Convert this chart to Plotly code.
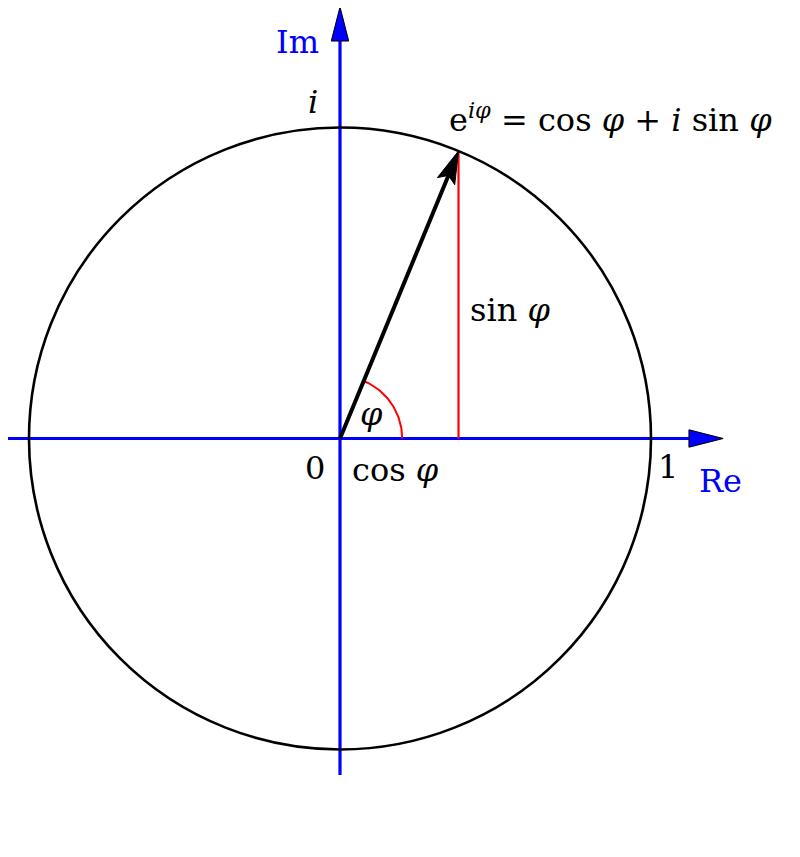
import numpy as np
import plotly.graph_objects as go

# ---- data ----
phi_deg = 67.6          # angle of the unit vector
radius = 1.0            # unit circle
arc_radius = 0.2        # radius of angle marker
re_axis = [-1.084, 1.122]   # extent of real axis line
im_axis = [-1.082, 1.278]   # extent of imaginary axis line
arrow_len_axis = 0.11
labels = {
    "Im": (-0.138, 1.275),
    "i": (-0.087, 1.082),
    "sinphi": (0.547, 0.413),
    "phi": (0.10, 0.079),
    "0": (-0.08, -0.095),
    "cosphi": (0.177, -0.101),
    "1": (1.055, -0.092),
    "Re": (1.225, -0.137),
}

phi = np.deg2rad(phi_deg)
cx, cy = radius * np.cos(phi), radius * np.sin(phi)

BLUE = "#0000ff"
FONT = "DejaVu Serif"
FS = 32

# page offset (browser body margin) compensation
OFF = 8
SC = 311.0
X0, Y0 = 340.0, 438.5

fig = go.Figure()

shapes = [dict(type="circle", xref="x", yref="y", x0=-radius, y0=-radius, x1=radius, y1=radius,
               line=dict(color="black", width=2.6), layer="above")]

# axes lines
fig.add_trace(go.Scatter(x=re_axis, y=[0, 0], mode="lines", line=dict(color=BLUE, width=3.2),
                         hoverinfo="skip"))
fig.add_trace(go.Scatter(x=[0, 0], y=im_axis, mode="lines", line=dict(color=BLUE, width=3.2),
                         hoverinfo="skip"))
# axis arrowheads
hw = 0.028
fig.add_trace(go.Scatter(x=[re_axis[1], re_axis[1] + arrow_len_axis, re_axis[1], re_axis[1]],
                         y=[hw, 0, -hw, hw], mode="lines", fill="toself", fillcolor=BLUE,
                         line=dict(color="black", width=1), hoverinfo="skip"))
fig.add_trace(go.Scatter(x=[-hw, 0, hw, -hw],
                         y=[im_axis[1], im_axis[1] + arrow_len_axis, im_axis[1], im_axis[1]],
                         mode="lines", fill="toself", fillcolor=BLUE,
                         line=dict(color="black", width=1), hoverinfo="skip"))

# red sine line
fig.add_trace(go.Scatter(x=[cx, cx], y=[0, cy], mode="lines", line=dict(color="red", width=2.2),
                         hoverinfo="skip"))
# angle arc
t = np.linspace(0, phi, 60)
fig.add_trace(go.Scatter(x=arc_radius * np.cos(t), y=arc_radius * np.sin(t), mode="lines",
                         line=dict(color="red", width=2), hoverinfo="skip"))

# black vector with arrowhead
head_len = 0.105
head_hw = 0.03
ux, uy = np.cos(phi), np.sin(phi)
px_, py_ = -uy, ux
bx, by = cx - head_len * ux, cy - head_len * uy
notch = 0.02
fig.add_trace(go.Scatter(x=[0, bx + notch * ux], y=[0, by + notch * uy], mode="lines",
                         line=dict(color="black", width=4), hoverinfo="skip"))
fig.add_trace(go.Scatter(x=[cx, bx + head_hw * px_, bx + notch * ux, bx - head_hw * px_, cx],
                         y=[cy, by + head_hw * py_, by + notch * uy, by - head_hw * py_, cy],
                         mode="lines", fill="toself", fillcolor="black",
                         line=dict(color="black", width=1), hoverinfo="skip"))

ann = []
def lab(key, text, color="black", xanchor="center"):
    x, y = labels[key]
    ann.append(dict(x=x, y=y, xref="x", yref="y", text=text, showarrow=False,
                    xanchor=xanchor, yanchor="middle",
                    font=dict(family=FONT, size=FS, color=color)))

lab("Im", "Im", BLUE)
lab("i", "<i>i</i>")
lab("sinphi", "sin <i>φ</i>")
lab("phi", "<i>φ</i>")
lab("0", "0")
lab("cosphi", "cos <i>φ</i>")
lab("1", "1")
lab("Re", "Re", BLUE)
ann.append(dict(x=0.344, y=1.031, xref="x", yref="y",
                text="e<sup><i>iφ</i></sup> = cos <i>φ</i> + <i>i</i> sin <i>φ</i>",
                showarrow=False, xanchor="left", yanchor="middle",
                font=dict(family=FONT, size=FS, color="black")))

fig.update_layout(
    width=800, height=857,
    margin=dict(l=0, r=0, t=0, b=0),
    paper_bgcolor="white", plot_bgcolor="white",
    showlegend=False,
    xaxis=dict(range=[(OFF - X0) / SC, (OFF + 800 - X0) / SC], visible=False, fixedrange=True),
    yaxis=dict(range=[(Y0 - OFF - 857) / SC, (Y0 - OFF) / SC], visible=False, fixedrange=True),
    shapes=shapes,
    annotations=ann,
)

fig.write_html("out.html", config={"displayModeBar": False})
